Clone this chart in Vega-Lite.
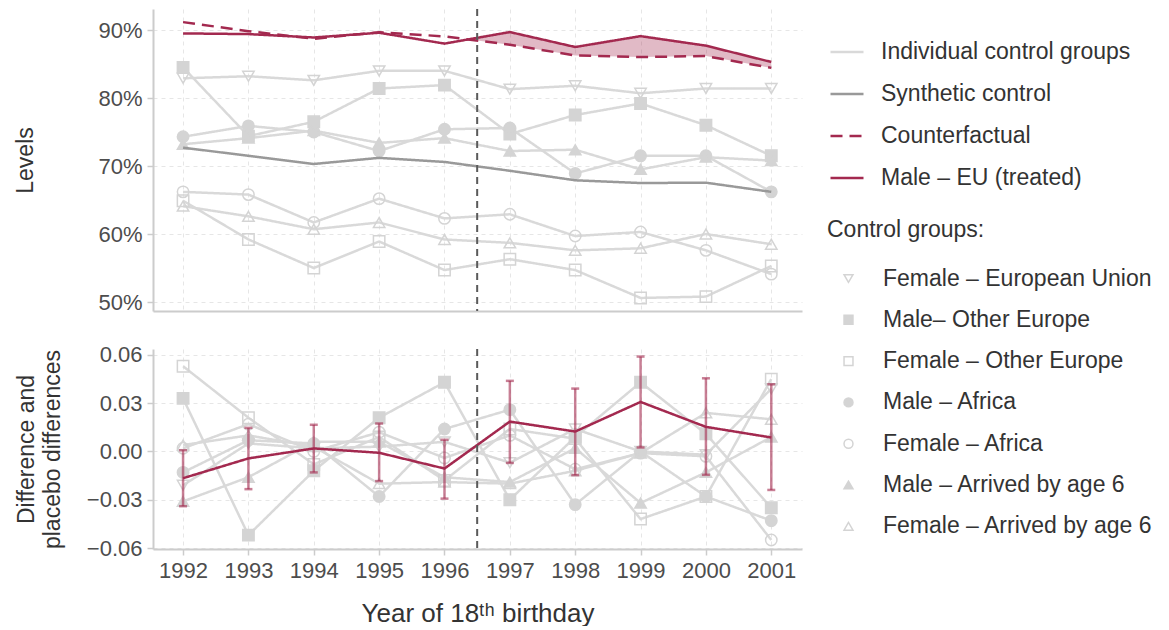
{
  "$schema": "https://vega.github.io/schema/vega-lite/v6.json",
  "padding": {"left": 14, "top": 8, "right": 0, "bottom": 0},
  "background": "white",
  "config": {
    "view": {"stroke": null},
    "font": "Liberation Sans",
    "axis": {
      "labelFont": "Liberation Sans",
      "labelFontSize": 22,
      "labelColor": "#4d4d4d",
      "titleFont": "Liberation Sans",
      "titleFontSize": 23,
      "titleFontWeight": "normal",
      "titleColor": "#333333",
      "domainColor": "#cccccc",
      "domainWidth": 2,
      "tickColor": "#cccccc",
      "tickWidth": 1.5,
      "tickSize": 6,
      "labelPadding": 5,
      "gridColor": "#e6e6e6",
      "gridDash": [4, 4],
      "gridWidth": 1
    },
    "legend": {
      "labelFont": "Liberation Sans",
      "labelFontSize": 23,
      "labelColor": "#333333",
      "labelLimit": 400,
      "titleFont": "Liberation Sans",
      "titleFontSize": 23,
      "titleFontWeight": "normal",
      "titleColor": "#333333",
      "titleLimit": 400
    }
  },
  "datasets": {
    "levels": [
      {"year": 1992, "group": "Female – European Union", "value": 0.829},
      {"year": 1993, "group": "Female – European Union", "value": 0.832},
      {"year": 1994, "group": "Female – European Union", "value": 0.826},
      {"year": 1995, "group": "Female – European Union", "value": 0.840},
      {"year": 1996, "group": "Female – European Union", "value": 0.840},
      {"year": 1997, "group": "Female – European Union", "value": 0.813},
      {"year": 1998, "group": "Female – European Union", "value": 0.818},
      {"year": 1999, "group": "Female – European Union", "value": 0.807},
      {"year": 2000, "group": "Female – European Union", "value": 0.814},
      {"year": 2001, "group": "Female – European Union", "value": 0.814},
      {"year": 1992, "group": "Male– Other Europe", "value": 0.845},
      {"year": 1993, "group": "Male– Other Europe", "value": 0.744},
      {"year": 1994, "group": "Male– Other Europe", "value": 0.765},
      {"year": 1995, "group": "Male– Other Europe", "value": 0.814},
      {"year": 1996, "group": "Male– Other Europe", "value": 0.819},
      {"year": 1997, "group": "Male– Other Europe", "value": 0.747},
      {"year": 1998, "group": "Male– Other Europe", "value": 0.775},
      {"year": 1999, "group": "Male– Other Europe", "value": 0.792},
      {"year": 2000, "group": "Male– Other Europe", "value": 0.760},
      {"year": 2001, "group": "Male– Other Europe", "value": 0.715},
      {"year": 1992, "group": "Female – Other Europe", "value": 0.649},
      {"year": 1993, "group": "Female – Other Europe", "value": 0.592},
      {"year": 1994, "group": "Female – Other Europe", "value": 0.550},
      {"year": 1995, "group": "Female – Other Europe", "value": 0.589},
      {"year": 1996, "group": "Female – Other Europe", "value": 0.547},
      {"year": 1997, "group": "Female – Other Europe", "value": 0.563},
      {"year": 1998, "group": "Female – Other Europe", "value": 0.547},
      {"year": 1999, "group": "Female – Other Europe", "value": 0.506},
      {"year": 2000, "group": "Female – Other Europe", "value": 0.508},
      {"year": 2001, "group": "Female – Other Europe", "value": 0.553},
      {"year": 1992, "group": "Male – Africa", "value": 0.743},
      {"year": 1993, "group": "Male – Africa", "value": 0.759},
      {"year": 1994, "group": "Male – Africa", "value": 0.750},
      {"year": 1995, "group": "Male – Africa", "value": 0.722},
      {"year": 1996, "group": "Male – Africa", "value": 0.754},
      {"year": 1997, "group": "Male – Africa", "value": 0.756},
      {"year": 1998, "group": "Male – Africa", "value": 0.689},
      {"year": 1999, "group": "Male – Africa", "value": 0.715},
      {"year": 2000, "group": "Male – Africa", "value": 0.715},
      {"year": 2001, "group": "Male – Africa", "value": 0.662},
      {"year": 1992, "group": "Female – Africa", "value": 0.662},
      {"year": 1993, "group": "Female – Africa", "value": 0.658},
      {"year": 1994, "group": "Female – Africa", "value": 0.617},
      {"year": 1995, "group": "Female – Africa", "value": 0.652},
      {"year": 1996, "group": "Female – Africa", "value": 0.623},
      {"year": 1997, "group": "Female – Africa", "value": 0.629},
      {"year": 1998, "group": "Female – Africa", "value": 0.597},
      {"year": 1999, "group": "Female – Africa", "value": 0.603},
      {"year": 2000, "group": "Female – Africa", "value": 0.576},
      {"year": 2001, "group": "Female – Africa", "value": 0.541},
      {"year": 1992, "group": "Male – Arrived by age 6", "value": 0.732},
      {"year": 1993, "group": "Male – Arrived by age 6", "value": 0.741},
      {"year": 1994, "group": "Male – Arrived by age 6", "value": 0.752},
      {"year": 1995, "group": "Male – Arrived by age 6", "value": 0.734},
      {"year": 1996, "group": "Male – Arrived by age 6", "value": 0.741},
      {"year": 1997, "group": "Male – Arrived by age 6", "value": 0.722},
      {"year": 1998, "group": "Male – Arrived by age 6", "value": 0.724},
      {"year": 1999, "group": "Male – Arrived by age 6", "value": 0.695},
      {"year": 2000, "group": "Male – Arrived by age 6", "value": 0.713},
      {"year": 2001, "group": "Male – Arrived by age 6", "value": 0.708},
      {"year": 1992, "group": "Female – Arrived by age 6", "value": 0.641},
      {"year": 1993, "group": "Female – Arrived by age 6", "value": 0.626},
      {"year": 1994, "group": "Female – Arrived by age 6", "value": 0.607},
      {"year": 1995, "group": "Female – Arrived by age 6", "value": 0.617},
      {"year": 1996, "group": "Female – Arrived by age 6", "value": 0.592},
      {"year": 1997, "group": "Female – Arrived by age 6", "value": 0.587},
      {"year": 1998, "group": "Female – Arrived by age 6", "value": 0.576},
      {"year": 1999, "group": "Female – Arrived by age 6", "value": 0.579},
      {"year": 2000, "group": "Female – Arrived by age 6", "value": 0.600},
      {"year": 2001, "group": "Female – Arrived by age 6", "value": 0.585}
    ],
    "main": [
      {"year": 1992, "series": "Synthetic control", "value": 0.727},
      {"year": 1993, "series": "Synthetic control", "value": 0.715},
      {"year": 1994, "series": "Synthetic control", "value": 0.703},
      {"year": 1995, "series": "Synthetic control", "value": 0.712},
      {"year": 1996, "series": "Synthetic control", "value": 0.706},
      {"year": 1997, "series": "Synthetic control", "value": 0.693},
      {"year": 1998, "series": "Synthetic control", "value": 0.679},
      {"year": 1999, "series": "Synthetic control", "value": 0.675},
      {"year": 2000, "series": "Synthetic control", "value": 0.6755},
      {"year": 2001, "series": "Synthetic control", "value": 0.662},
      {"year": 1992, "series": "Counterfactual", "value": 0.9116},
      {"year": 1993, "series": "Counterfactual", "value": 0.8983},
      {"year": 1994, "series": "Counterfactual", "value": 0.8871},
      {"year": 1995, "series": "Counterfactual", "value": 0.8968},
      {"year": 1996, "series": "Counterfactual", "value": 0.8906},
      {"year": 1997, "series": "Counterfactual", "value": 0.8784},
      {"year": 1998, "series": "Counterfactual", "value": 0.8626},
      {"year": 1999, "series": "Counterfactual", "value": 0.8602},
      {"year": 2000, "series": "Counterfactual", "value": 0.8617},
      {"year": 2001, "series": "Counterfactual", "value": 0.8443},
      {"year": 1992, "series": "Male – EU (treated)", "value": 0.895},
      {"year": 1993, "series": "Male – EU (treated)", "value": 0.894},
      {"year": 1994, "series": "Male – EU (treated)", "value": 0.889},
      {"year": 1995, "series": "Male – EU (treated)", "value": 0.896},
      {"year": 1996, "series": "Male – EU (treated)", "value": 0.880},
      {"year": 1997, "series": "Male – EU (treated)", "value": 0.897},
      {"year": 1998, "series": "Male – EU (treated)", "value": 0.875},
      {"year": 1999, "series": "Male – EU (treated)", "value": 0.891},
      {"year": 2000, "series": "Male – EU (treated)", "value": 0.877},
      {"year": 2001, "series": "Male – EU (treated)", "value": 0.853}
    ],
    "gap": [
      {"year": 1996.5, "lo": 0.8845, "hi": 0.8885},
      {"year": 1997, "lo": 0.8784, "hi": 0.897},
      {"year": 1998, "lo": 0.8626, "hi": 0.875},
      {"year": 1999, "lo": 0.8602, "hi": 0.891},
      {"year": 2000, "lo": 0.8617, "hi": 0.877},
      {"year": 2001, "lo": 0.8443, "hi": 0.853}
    ],
    "placebo": [
      {"year": 1992, "group": "Female – European Union", "value": -0.021},
      {"year": 1993, "group": "Female – European Union", "value": 0.005},
      {"year": 1994, "group": "Female – European Union", "value": 0.002},
      {"year": 1995, "group": "Female – European Union", "value": 0.003},
      {"year": 1996, "group": "Female – European Union", "value": 0.006},
      {"year": 1997, "group": "Female – European Union", "value": -0.007},
      {"year": 1998, "group": "Female – European Union", "value": 0.014},
      {"year": 1999, "group": "Female – European Union", "value": 0.000},
      {"year": 2000, "group": "Female – European Union", "value": -0.002},
      {"year": 2001, "group": "Female – European Union", "value": 0.039},
      {"year": 1992, "group": "Male– Other Europe", "value": 0.033},
      {"year": 1993, "group": "Male– Other Europe", "value": -0.052},
      {"year": 1994, "group": "Male– Other Europe", "value": -0.012},
      {"year": 1995, "group": "Male– Other Europe", "value": 0.021},
      {"year": 1996, "group": "Male– Other Europe", "value": 0.043},
      {"year": 1997, "group": "Male– Other Europe", "value": -0.030},
      {"year": 1998, "group": "Male– Other Europe", "value": 0.009},
      {"year": 1999, "group": "Male– Other Europe", "value": 0.043},
      {"year": 2000, "group": "Male– Other Europe", "value": 0.011},
      {"year": 2001, "group": "Male– Other Europe", "value": -0.035},
      {"year": 1992, "group": "Female – Other Europe", "value": 0.053},
      {"year": 1993, "group": "Female – Other Europe", "value": 0.021},
      {"year": 1994, "group": "Female – Other Europe", "value": -0.008},
      {"year": 1995, "group": "Female – Other Europe", "value": 0.009},
      {"year": 1996, "group": "Female – Other Europe", "value": -0.018},
      {"year": 1997, "group": "Female – Other Europe", "value": 0.014},
      {"year": 1998, "group": "Female – Other Europe", "value": 0.008},
      {"year": 1999, "group": "Female – Other Europe", "value": -0.042},
      {"year": 2000, "group": "Female – Other Europe", "value": -0.028},
      {"year": 2001, "group": "Female – Other Europe", "value": 0.045},
      {"year": 1992, "group": "Male – Africa", "value": -0.013},
      {"year": 1993, "group": "Male – Africa", "value": 0.007},
      {"year": 1994, "group": "Male – Africa", "value": 0.005},
      {"year": 1995, "group": "Male – Africa", "value": -0.028},
      {"year": 1996, "group": "Male – Africa", "value": 0.014},
      {"year": 1997, "group": "Male – Africa", "value": 0.026},
      {"year": 1998, "group": "Male – Africa", "value": -0.033},
      {"year": 1999, "group": "Male – Africa", "value": 0.000},
      {"year": 2000, "group": "Male – Africa", "value": -0.028},
      {"year": 2001, "group": "Male – Africa", "value": -0.043},
      {"year": 1992, "group": "Female – Africa", "value": 0.002},
      {"year": 1993, "group": "Female – Africa", "value": 0.017},
      {"year": 1994, "group": "Female – Africa", "value": 0.000},
      {"year": 1995, "group": "Female – Africa", "value": 0.012},
      {"year": 1996, "group": "Female – Africa", "value": -0.004},
      {"year": 1997, "group": "Female – Africa", "value": 0.010},
      {"year": 1998, "group": "Female – Africa", "value": -0.011},
      {"year": 1999, "group": "Female – Africa", "value": -0.001},
      {"year": 2000, "group": "Female – Africa", "value": -0.003},
      {"year": 2001, "group": "Female – Africa", "value": -0.055},
      {"year": 1992, "group": "Male – Arrived by age 6", "value": -0.031},
      {"year": 1993, "group": "Male – Arrived by age 6", "value": -0.016},
      {"year": 1994, "group": "Male – Arrived by age 6", "value": 0.006},
      {"year": 1995, "group": "Male – Arrived by age 6", "value": 0.006},
      {"year": 1996, "group": "Male – Arrived by age 6", "value": -0.016},
      {"year": 1997, "group": "Male – Arrived by age 6", "value": -0.019},
      {"year": 1998, "group": "Male – Arrived by age 6", "value": 0.002},
      {"year": 1999, "group": "Male – Arrived by age 6", "value": -0.032},
      {"year": 2000, "group": "Male – Arrived by age 6", "value": -0.013},
      {"year": 2001, "group": "Male – Arrived by age 6", "value": 0.009},
      {"year": 1992, "group": "Female – Arrived by age 6", "value": 0.004},
      {"year": 1993, "group": "Female – Arrived by age 6", "value": 0.010},
      {"year": 1994, "group": "Female – Arrived by age 6", "value": 0.003},
      {"year": 1995, "group": "Female – Arrived by age 6", "value": -0.020},
      {"year": 1996, "group": "Female – Arrived by age 6", "value": -0.019},
      {"year": 1997, "group": "Female – Arrived by age 6", "value": -0.020},
      {"year": 1998, "group": "Female – Arrived by age 6", "value": -0.012},
      {"year": 1999, "group": "Female – Arrived by age 6", "value": -0.001},
      {"year": 2000, "group": "Female – Arrived by age 6", "value": 0.024},
      {"year": 2001, "group": "Female – Arrived by age 6", "value": 0.020}
    ],
    "effect": [
      {"year": 1992, "value": -0.0166, "lo": -0.0340, "hi": 0.0008},
      {"year": 1993, "value": -0.0043, "lo": -0.0234, "hi": 0.0147},
      {"year": 1994, "value": 0.0019, "lo": -0.0130, "hi": 0.0166},
      {"year": 1995, "value": -0.0008, "lo": -0.0184, "hi": 0.0174},
      {"year": 1996, "value": -0.0106, "lo": -0.0293, "hi": 0.0073},
      {"year": 1997, "value": 0.0186, "lo": -0.0071, "hi": 0.0439},
      {"year": 1998, "value": 0.0124, "lo": -0.0147, "hi": 0.0391},
      {"year": 1999, "value": 0.0308, "lo": 0.0025, "hi": 0.0590},
      {"year": 2000, "value": 0.0153, "lo": -0.0145, "hi": 0.0455},
      {"year": 2001, "value": 0.0087, "lo": -0.0239, "hi": 0.0418}
    ]
  },
  "spacing": 38,
  "bounds": "flush",
  "resolve": {"scale": {"x": "shared", "color": "shared", "strokeDash": "shared", "shape": "shared", "fill": "shared", "stroke": "shared"}},
  "vconcat": [
    {
      "width": 649,
      "height": 302,
      "encoding": {
        "x": {
          "field": "year",
          "type": "quantitative",
          "scale": {"domain": [1991.54, 2001.47], "nice": false, "zero": false},
          "axis": {"values": [1992, 1993, 1994, 1995, 1996, 1997, 1998, 1999, 2000, 2001], "labels": false, "ticks": false, "title": null, "grid": true}
        }
      },
      "layer": [
        {
          "data": {"name": "gap"},
          "mark": {"type": "area", "color": "#a3294f", "opacity": 0.32},
          "encoding": {
            "y": {"field": "lo", "type": "quantitative", "title": "Levels"},
            "y2": {"field": "hi"}
          }
        },
        {
          "data": {"name": "levels"},
          "mark": {"type": "line", "strokeWidth": 2.5},
          "encoding": {
            "y": {
              "field": "value",
              "type": "quantitative",
              "title": "Levels",
              "scale": {"domain": [0.4868, 0.9309], "nice": false, "zero": false},
              "axis": {"values": [0.5, 0.6, 0.7, 0.8, 0.9], "format": ".0%", "title": "Levels", "titlePadding": 60, "grid": true}
            },
            "detail": {"field": "group"},
            "color": {
              "datum": "Individual control groups",
              "scale": {
                "domain": ["Individual control groups", "Synthetic control", "Counterfactual", "Male – EU (treated)"],
                "range": ["#d9d9d9", "#999999", "#a3294f", "#a3294f"]
              },
              "legend": {"title": null, "orient": "none", "legendX": 676, "legendY": 25, "symbolType": "stroke", "symbolSize": 1089, "symbolStrokeWidth": 2.5, "rowPadding": 12, "labelOffset": 16}
            },
            "strokeDash": {
              "datum": "Individual control groups",
              "scale": {
                "domain": ["Individual control groups", "Synthetic control", "Counterfactual", "Male – EU (treated)"],
                "range": [[1, 0], [1, 0], [12, 7], [1, 0]]
              },
              "legend": {"title": null, "orient": "none", "legendX": 676, "legendY": 25, "symbolType": "stroke", "symbolSize": 1089, "symbolStrokeWidth": 2.5, "rowPadding": 12, "labelOffset": 16}
            }
          }
        },
        {
          "data": {"name": "levels"},
          "mark": {"type": "point", "size": 130, "strokeWidth": 1.5, "opacity": 1},
          "encoding": {
            "y": {"field": "value", "type": "quantitative", "title": "Levels"},
            "shape": {
              "field": "group",
              "type": "nominal",
              "scale": {
                "domain": ["Female – European Union", "Male– Other Europe", "Female – Other Europe", "Male – Africa", "Female – Africa", "Male – Arrived by age 6", "Female – Arrived by age 6"],
                "range": ["triangle-down", "square", "square", "circle", "circle", "triangle-up", "triangle-up"]
              },
              "legend": {"title": "Control groups:", "orient": "none", "legendX": 674, "legendY": 210, "symbolSize": 80, "symbolStrokeWidth": 1.5, "symbolOffset": 10, "labelOffset": 23, "rowPadding": 17.3, "titlePadding": 25}
            },
            "fill": {
              "field": "group",
              "type": "nominal",
              "scale": {
                "domain": ["Female – European Union", "Male– Other Europe", "Female – Other Europe", "Male – Africa", "Female – Africa", "Male – Arrived by age 6", "Female – Arrived by age 6"],
                "range": ["transparent", "#d4d4d4", "transparent", "#d4d4d4", "transparent", "#d4d4d4", "transparent"]
              },
              "legend": {"title": "Control groups:", "orient": "none", "legendX": 674, "legendY": 210, "symbolSize": 80, "symbolStrokeWidth": 1.5, "symbolOffset": 10, "labelOffset": 23, "rowPadding": 17.3, "titlePadding": 25}
            },
            "stroke": {
              "field": "group",
              "type": "nominal",
              "scale": {
                "domain": ["Female – European Union", "Male– Other Europe", "Female – Other Europe", "Male – Africa", "Female – Africa", "Male – Arrived by age 6", "Female – Arrived by age 6"],
                "range": ["#d4d4d4", "#d4d4d4", "#d4d4d4", "#d4d4d4", "#d4d4d4", "#d4d4d4", "#d4d4d4"]
              },
              "legend": {"title": "Control groups:", "orient": "none", "legendX": 674, "legendY": 210, "symbolSize": 80, "symbolStrokeWidth": 1.5, "symbolOffset": 10, "labelOffset": 23, "rowPadding": 17.3, "titlePadding": 25}
            }
          }
        },
        {
          "data": {"name": "main"},
          "mark": {"type": "line", "strokeWidth": 2.5},
          "encoding": {
            "y": {"field": "value", "type": "quantitative", "title": "Levels"},
            "detail": {"field": "series"},
            "color": {
              "field": "series",
              "type": "nominal",
              "title": null,
              "legend": {"title": null, "orient": "none", "legendX": 676, "legendY": 25, "symbolType": "stroke", "symbolSize": 1089, "symbolStrokeWidth": 2.5, "rowPadding": 12, "labelOffset": 16}
            },
            "strokeDash": {
              "field": "series",
              "type": "nominal",
              "title": null,
              "legend": {"title": null, "orient": "none", "legendX": 676, "legendY": 25, "symbolType": "stroke", "symbolSize": 1089, "symbolStrokeWidth": 2.5, "rowPadding": 12, "labelOffset": 16}
            }
          }
        },
        {
          "data": {"values": [{"cut": 1996.5}]},
          "mark": {"type": "rule", "color": "#5a5a5a", "strokeWidth": 2, "strokeDash": [7, 5]},
          "encoding": {"x": {"field": "cut", "type": "quantitative"}}
        }
      ]
    },
    {
      "width": 649,
      "height": 200,
      "encoding": {
        "x": {
          "field": "year",
          "type": "quantitative",
          "scale": {"domain": [1991.54, 2001.47], "nice": false, "zero": false},
          "axis": {"values": [1992, 1993, 1994, 1995, 1996, 1997, 1998, 1999, 2000, 2001], "format": "d", "title": "Year of 18ᵗʰ birthday", "titleFontSize": 26, "titlePadding": 19, "grid": true}
        }
      },
      "layer": [
        {
          "data": {"values": [{"zero": 0}]},
          "mark": {"type": "rule", "color": "#5a5a5a", "strokeWidth": 2},
          "encoding": {"y": {"field": "zero", "type": "quantitative", "title": ["Difference and", "placebo differences"]}}
        },
        {
          "data": {"name": "placebo"},
          "mark": {"type": "line", "strokeWidth": 2.5},
          "encoding": {
            "y": {
              "field": "value",
              "type": "quantitative",
              "title": ["Difference and", "placebo differences"],
              "scale": {"domain": [-0.0606, 0.0637], "nice": false, "zero": false},
              "axis": {"values": [-0.06, -0.03, 0, 0.03, 0.06], "format": ".2f", "title": ["Difference and", "placebo differences"], "titleLineHeight": 26, "titlePadding": 22, "grid": true}
            },
            "detail": {"field": "group"},
            "color": {"datum": "Individual control groups"},
            "strokeDash": {"datum": "Individual control groups"}
          }
        },
        {
          "data": {"name": "placebo"},
          "mark": {"type": "point", "size": 130, "strokeWidth": 1.5, "opacity": 1},
          "encoding": {
            "y": {"field": "value", "type": "quantitative", "title": ["Difference and", "placebo differences"]},
            "shape": {"field": "group", "type": "nominal"},
            "fill": {"field": "group", "type": "nominal"},
            "stroke": {"field": "group", "type": "nominal"}
          }
        },
        {
          "data": {"name": "effect"},
          "mark": {"type": "errorbar", "color": "#a3294f", "opacity": 0.6, "thickness": 2.5, "ticks": {"size": 8}},
          "encoding": {
            "y": {"field": "lo", "type": "quantitative", "title": ["Difference and", "placebo differences"]},
            "y2": {"field": "hi"}
          }
        },
        {
          "data": {"name": "effect"},
          "mark": {"type": "line", "strokeWidth": 2.5},
          "encoding": {
            "y": {"field": "value", "type": "quantitative", "title": ["Difference and", "placebo differences"]},
            "color": {"datum": "Male – EU (treated)"},
            "strokeDash": {"datum": "Male – EU (treated)"}
          }
        },
        {
          "data": {"values": [{"cut": 1996.5}]},
          "mark": {"type": "rule", "color": "#5a5a5a", "strokeWidth": 2, "strokeDash": [7, 5]},
          "encoding": {"x": {"field": "cut", "type": "quantitative"}}
        }
      ]
    }
  ]
}
